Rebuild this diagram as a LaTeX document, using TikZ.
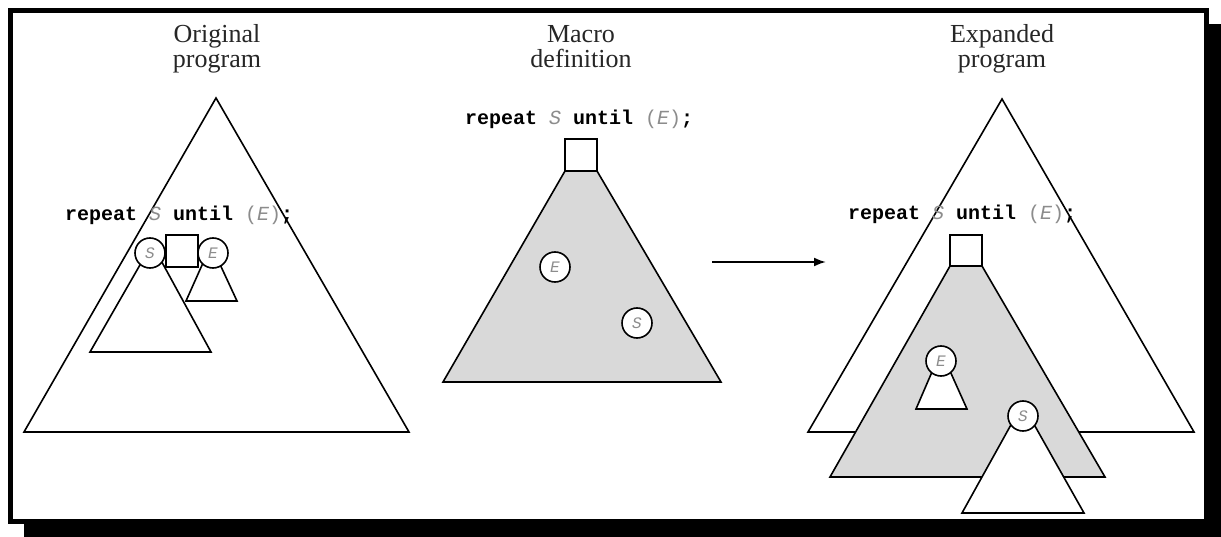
\documentclass[tikz,border=0pt]{standalone}
\usepackage{fontspec}
\setmainfont{Liberation Serif}
\setmonofont{Liberation Mono}
\usetikzlibrary{arrows.meta}
\newcommand{\codeline}{{\bfseries repeat}~{\color{black!45}\itshape S}~{\bfseries until}~{\color{black!45}(\itshape E\upshape)}{\bfseries ;}}
\begin{document}
\begin{tikzpicture}[x=1pt,y=-1pt,
  tri/.style={draw=black,line width=1.6pt,fill=white,line join=miter},
  graytri/.style={draw=black,line width=1.6pt,fill=black!15,line join=miter},
  boxnode/.style={draw=black,line width=2pt,fill=white,minimum width=32pt,minimum height=32pt,inner sep=0pt},
  circ/.style={circle,draw=black,line width=1.6pt,fill=white,minimum size=30pt,inner sep=0pt,font=\fontsize{16}{16}\selectfont\ttfamily\itshape,text=black!45},
  title/.style={anchor=base,inner sep=0pt,font=\fontsize{26}{26}\selectfont,text=black!85},
  code/.style={anchor=base west,inner sep=0pt,font=\fontsize{20}{20}\selectfont\ttfamily},
  arrowline/.style={line width=2pt,-{Latex[length=12pt,width=9pt]}}
]
\useasboundingbox (0,0) rectangle (1221,537);
% frame with drop shadow
\fill[black] (24,24) rectangle (1221,537);
\draw[line width=5pt,fill=white] (10.5,10.5) rectangle (1206.5,521.5);

% ---------- titles ----------
\node[title] (t1a) at (217,43) {Original};
\node[title] (t1b) at (217,68) {program};
\node[title] (t2a) at (581,43) {Macro};
\node[title] (t2b) at (581,68) {definition};
\node[title] (t3a) at (1002,43) {Expanded};
\node[title] (t3b) at (1002,68) {program};

% ---------- original program ----------
\draw[tri] (24,432) -- (216,98) -- (409,432) -- cycle;
\node[code] (c1) at (65,221) {\codeline};
\draw[tri] (152,244) -- (90,352) -- (211,352) -- cycle;
\draw[tri] (211,245) -- (186,301) -- (237,301) -- cycle;
\node[circ] (s1) at (150,253) {S};
\node[circ] (e1) at (213,253) {E};
\node[boxnode] (b1) at (181.5,251.5) {};

% ---------- macro definition ----------
\node[code] (c2) at (465,125) {\codeline};
\draw[graytri] (565,171) -- (597,171) -- (721,382) -- (443,382) -- cycle;
\node[boxnode] (b2) at (581,155) {};
\node[circ] (e2) at (555,267) {E};
\node[circ] (s2) at (637,323) {S};

% ---------- arrow ----------
\coordinate (a1) at (712,262);
\coordinate (a2) at (826,262);
\draw[arrowline] (a1) -- (a2);

% ---------- expanded program ----------
\draw[tri] (808,432) -- (1002,99) -- (1194,432) -- cycle;
\node[code] (c3) at (848,220) {\codeline};
\draw[graytri] (950,266) -- (982,266) -- (1105,477) -- (830,477) -- cycle;
\node[boxnode,minimum height=31pt] (b3) at (966,250.5) {};
\draw[tri] (941,351) -- (916,409) -- (967,409) -- cycle;
\node[circ] (e3) at (941,361) {E};
\draw[tri] (1022.5,404) -- (962,513) -- (1084,513) -- cycle;
\node[circ] (s3) at (1023,416) {S};
\end{tikzpicture}
\end{document}
